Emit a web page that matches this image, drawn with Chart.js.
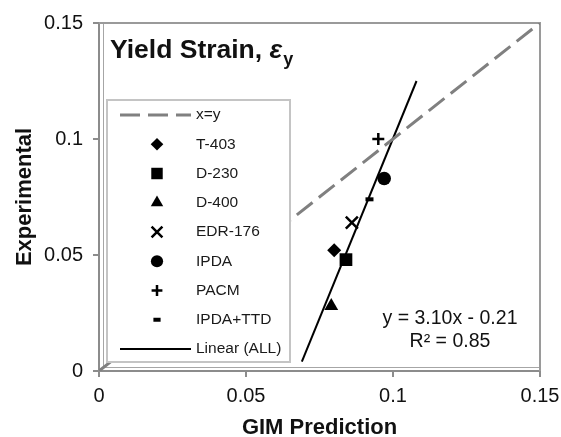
<!DOCTYPE html>
<html>
<head>
<meta charset="utf-8">
<title>Yield Strain</title>
<script src="https://cdn.jsdelivr.net/npm/chart.js@4.4.1/dist/chart.umd.min.js"></script>
<style>
  html, body { margin: 0; padding: 0; background: #fff; }
  canvas { display: block; }
</style>
</head>
<body>
<canvas id="chart" width="561" height="437"></canvas>
<script>
// measured vs. predicted yield strain, one marker per curing agent
const seriesNames = ['T-403', 'D-230', 'D-400', 'EDR-176', 'IPDA', 'PACM', 'IPDA+TTD'];
const gimPrediction = [0.080, 0.084, 0.079, 0.086, 0.097, 0.095, 0.092];
const experimental  = [0.052, 0.048, 0.028, 0.064, 0.083, 0.100, 0.074];

// x = y reference line
const parityX = [0, 0.15];
const parityY = [0, 0.15];

// least squares fit over all points
const fitSlope = 3.10;
const fitIntercept = -0.21;
const rSquared = 0.85;
const fitX = [0.069, 0.108];
const fitY = [0.004, 0.125];

const xTickLabels = ['0', '0.05', '0.1', '0.15'];
const yTickLabels = ['0', '0.05', '0.1', '0.15'];

const FONT = '"Liberation Sans", Arial, sans-serif';
Chart.defaults.font.family = FONT;

const markerStyles = {
  'T-403':    { pointStyle: 'rectRot',  radius: 7,   border: 0 },
  'D-230':    { pointStyle: 'rect',     radius: 9,   border: 0 },
  'D-400':    { pointStyle: 'triangle', radius: 8,   border: 0 },
  'EDR-176':  { pointStyle: 'crossRot', radius: 8.5, border: 2.5 },
  'IPDA':     { pointStyle: 'circle',   radius: 6.8, border: 0 },
  'PACM':     { pointStyle: 'cross',    radius: 6,   border: 2.5 },
  'IPDA+TTD': { pointStyle: 'line',     radius: 4,   border: 4 }
};

const toPoints = (xs, ys) => xs.map((x, i) => ({ x: x, y: ys[i] }));

const datasets = [{
  label: 'x=y',
  data: toPoints(parityX, parityY),
  showLine: true,
  borderColor: '#808080',
  borderWidth: 3,
  borderDash: [20, 8],
  pointRadius: 0
}];

seriesNames.forEach((name, i) => {
  const m = markerStyles[name];
  datasets.push({
    label: name,
    data: [{ x: gimPrediction[i], y: experimental[i] }],
    pointStyle: m.pointStyle,
    pointRadius: m.radius,
    pointBorderWidth: m.border,
    pointBackgroundColor: '#000',
    pointBorderColor: '#000'
  });
});

datasets.push({
  label: 'Linear (ALL)',
  data: toPoints(fitX, fitY),
  showLine: true,
  borderColor: '#000',
  borderWidth: 2,
  pointRadius: 0
});

// top/right edges and the shallow 3-D wall of the plot area
const plotFrame = {
  id: 'plotFrame',
  beforeDatasetsDraw(chart) {
    const { ctx } = chart;
    const { left, top, right, bottom } = chart.chartArea;
    ctx.save();
    ctx.strokeStyle = '#a6a6a6';
    ctx.lineWidth = 1;
    ctx.beginPath();
    ctx.moveTo(left + 4.5, top);
    ctx.lineTo(left + 4.5, bottom - 3.5);
    ctx.lineTo(right, bottom - 3.5);
    ctx.moveTo(left, bottom);
    ctx.lineTo(left + 4.5, bottom - 3.5);
    ctx.stroke();
    ctx.strokeStyle = '#9a9a9a';
    ctx.lineWidth = 2;
    ctx.beginPath();
    ctx.moveTo(left, top);
    ctx.lineTo(right, top);
    ctx.lineTo(right, bottom);
    ctx.stroke();
    ctx.restore();
  }
};

// legend box inside the plot, title and fit equation
const overlay = {
  id: 'overlay',
  afterDatasetsDraw(chart) {
    const { ctx } = chart;
    const box = { left: 107, top: 100, right: 290, bottom: 362 };
    ctx.save();
    ctx.fillStyle = '#fff';
    ctx.fillRect(box.left, box.top, box.right - box.left, box.bottom - box.top);
    ctx.strokeStyle = '#c4c4c4';
    ctx.lineWidth = 2;
    ctx.strokeRect(box.left, box.top, box.right - box.left, box.bottom - box.top);

    ctx.font = '15.5px ' + FONT;
    ctx.textBaseline = 'middle';
    chart.data.datasets.forEach((ds, i) => {
      const y = 115 + i * 29.25;
      if (ds.showLine) {
        ctx.save();
        ctx.strokeStyle = ds.borderColor;
        ctx.lineWidth = ds.borderWidth;
        ctx.setLineDash(ds.borderDash || []);
        ctx.beginPath();
        ctx.moveTo(120, y);
        ctx.lineTo(191, y);
        ctx.stroke();
        ctx.restore();
      } else {
        ctx.save();
        ctx.fillStyle = ds.pointBackgroundColor;
        ctx.strokeStyle = ds.pointBorderColor;
        ctx.lineWidth = ds.pointBorderWidth;
        Chart.helpers.drawPoint(ctx, {
          pointStyle: ds.pointStyle,
          radius: ds.pointRadius * 0.9,
          rotation: 0,
          borderWidth: ds.pointBorderWidth
        }, 157, y);
        ctx.restore();
      }
      ctx.fillStyle = '#1a1a1a';
      ctx.textAlign = 'left';
      ctx.fillText(ds.label, 196, y);
    });

    // chart title with subscripted epsilon
    ctx.fillStyle = '#111';
    ctx.textBaseline = 'alphabetic';
    ctx.font = 'bold 26.5px ' + FONT;
    const head = 'Yield Strain, ';
    ctx.fillText(head, 110, 58);
    let x = 110 + ctx.measureText(head).width;
    ctx.font = 'italic bold 26.5px ' + FONT;
    ctx.fillText('ε', x, 58);
    x += ctx.measureText('ε').width;
    ctx.font = 'bold 18px ' + FONT;
    ctx.fillText('y', x + 1, 65);

    // fit equation
    ctx.font = '19.5px ' + FONT;
    ctx.textAlign = 'center';
    ctx.textBaseline = 'middle';
    const sign = fitIntercept < 0 ? '-' : '+';
    ctx.fillText('y = ' + fitSlope.toFixed(2) + 'x ' + sign + ' ' + Math.abs(fitIntercept).toFixed(2), 450, 319);
    ctx.fillText('R² = ' + rSquared.toFixed(2), 450, 342);
    ctx.restore();
  }
};

const axisGrid = {
  drawOnChartArea: false,
  drawTicks: true,
  tickLength: 6,
  color: '#8c8c8c',
  lineWidth: 2
};

new Chart(document.getElementById('chart'), {
  type: 'scatter',
  data: { datasets: datasets },
  options: {
    responsive: false,
    animation: false,
    layout: { padding: { left: 0, top: 23, right: 21, bottom: 0 } },
    plugins: {
      legend: { display: false },
      tooltip: { enabled: false }
    },
    scales: {
      x: {
        type: 'linear',
        min: 0,
        max: 0.15,
        afterFit(scale) {
          scale.height = 66;
          scale.paddingLeft = 0;
          scale.paddingRight = 0;
        },
        grid: axisGrid,
        border: { display: true, color: '#8c8c8c', width: 2 },
        ticks: {
          stepSize: 0.05,
          padding: 7,
          maxRotation: 0,
          autoSkip: false,
          color: '#111',
          font: { size: 20 },
          callback: (v, i) => xTickLabels[i]
        },
        title: {
          display: true,
          text: 'GIM Prediction',
          color: '#111',
          font: { size: 22, weight: 'bold', lineHeight: 0.8 },
          padding: { top: 0, bottom: 0 }
        }
      },
      y: {
        type: 'linear',
        min: 0,
        max: 0.15,
        afterFit(scale) {
          scale.width = 99;
          scale.paddingTop = 0;
          scale.paddingBottom = 0;
        },
        grid: axisGrid,
        border: { display: true, color: '#8c8c8c', width: 2 },
        ticks: {
          stepSize: 0.05,
          padding: 10,
          color: '#111',
          font: { size: 20 },
          callback: (v, i) => yTickLabels[i]
        },
        title: {
          display: true,
          text: 'Experimental',
          color: '#111',
          font: { size: 22, weight: 'bold' },
          padding: { top: 12, bottom: 0 }
        }
      }
    }
  },
  plugins: [plotFrame, overlay]
});
</script>
</body>
</html>
